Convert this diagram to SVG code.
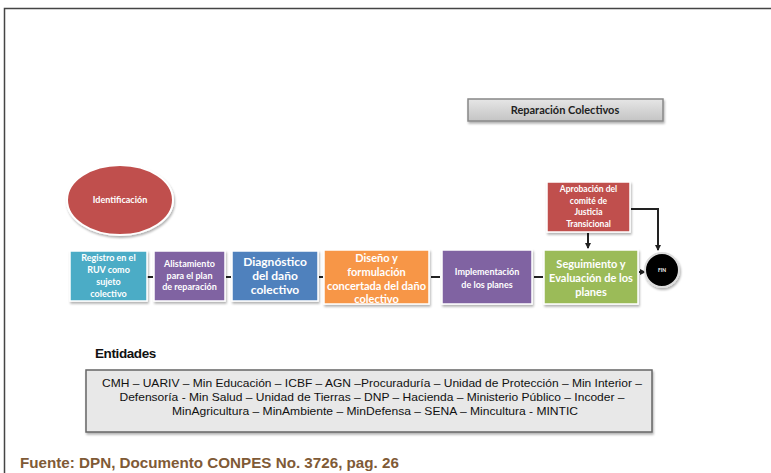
<svg xmlns="http://www.w3.org/2000/svg" width="771" height="473" viewBox="0 0 771 473">
<defs>
<linearGradient id="gGray" x1="0" y1="0" x2="0" y2="1">
<stop offset="0" stop-color="#e6e6e6"/><stop offset="1" stop-color="#c4c4c4"/>
</linearGradient>
<filter id="sh" x="-10%" y="-10%" width="130%" height="130%">
<feDropShadow dx="1" dy="2" stdDeviation="1.2" flood-color="#000" flood-opacity="0.3"/>
</filter>
<marker id="ah" markerWidth="6" markerHeight="6" refX="5" refY="3" orient="auto" markerUnits="userSpaceOnUse">
<path d="M0,0 L6,3 L0,6 z" fill="#222"/>
</marker>
</defs>
<style>
.box{stroke:#fff;stroke-width:1.5;filter:url(#sh)}
.t{font-family:Lato,"Liberation Sans",sans-serif;font-weight:bold;fill:#fff;text-anchor:middle}
.c{stroke:#222;stroke-width:2;fill:none}
.ent{font-family:"Liberation Sans",Arial,sans-serif;font-size:11.5px;fill:#111;text-anchor:middle}
</style>
<rect width="771" height="473" fill="#fff"/>
<path d="M4.5,473 V8.5 H771" fill="none" stroke="#444" stroke-width="1.5"/>

<g id="titulo">
<rect x="468" y="99" width="195" height="22" fill="url(#gGray)" stroke="#888" stroke-width="1.5" filter="url(#sh)"/>
<text x="565" y="114" font-family="Lato,'Liberation Sans',sans-serif" font-weight="bold" font-size="11" fill="#222" text-anchor="middle">Reparación Colectivos</text>
</g>

<g id="identificacion">
<ellipse cx="120" cy="200" rx="53" ry="35" fill="#c0504d" stroke="#fff" stroke-width="2" filter="url(#sh)"/>
<text class="t" x="120" y="203" font-size="9">Identificación</text>
</g>

<g id="connectors">
<line class="c" x1="147" y1="277" x2="153" y2="277" stroke-width="1.5"/>
<line class="c" x1="226" y1="277" x2="231" y2="277" stroke-width="1.5"/>
<line class="c" x1="319" y1="277" x2="323" y2="277" stroke-width="1.5"/>
<line class="c" x1="431" y1="277" x2="440" y2="277"/>
<line class="c" x1="534" y1="277" x2="543" y2="277"/>
<line class="c" x1="639" y1="272" x2="645" y2="272" marker-end="url(#ah)"/>
<line class="c" x1="588" y1="233" x2="588" y2="248" marker-end="url(#ah)"/>
<polyline class="c" points="631,209 658,209 658,250" marker-end="url(#ah)"/>
</g>

<g id="registro">
<rect class="box" x="70" y="251" width="77" height="50" fill="#4bacc6"/>
<text class="t" font-size="9" x="108.5" y="261">Registro en el</text>
<text class="t" font-size="9" x="108.5" y="273">RUV como</text>
<text class="t" font-size="9" x="108.5" y="285">sujeto</text>
<text class="t" font-size="9" x="108.5" y="297">colectivo</text>
</g>

<g id="alistamiento">
<rect class="box" x="154" y="251" width="71" height="50" fill="#8064a2"/>
<text class="t" font-size="9" x="189.5" y="267">Alistamiento</text>
<text class="t" font-size="9" x="189.5" y="279">para el plan</text>
<text class="t" font-size="9" x="189.5" y="290">de reparación</text>
</g>

<g id="diagnostico">
<rect class="box" x="232" y="251" width="86" height="50" fill="#4f81bd"/>
<text class="t" font-size="12" x="275" y="266">Diagnóstico</text>
<text class="t" font-size="12" x="275" y="280">del daño</text>
<text class="t" font-size="12" x="275" y="294">colectivo</text>
</g>

<g id="diseno">
<rect class="box" x="324" y="250" width="105" height="54" fill="#f79646"/>
<text class="t" font-size="11" x="376.5" y="262">Diseño y</text>
<text class="t" font-size="11" x="376.5" y="276">formulación</text>
<text class="t" font-size="11" x="376.5" y="290">concertada del daño</text>
<text class="t" font-size="11" x="376.5" y="303">colectivo</text>
</g>

<g id="implementacion">
<rect class="box" x="442" y="250" width="90" height="54" fill="#8064a2"/>
<text class="t" font-size="9" x="487" y="275">Implementación</text>
<text class="t" font-size="9" x="487" y="288">de los planes</text>
</g>

<g id="seguimiento">
<rect class="box" x="544" y="250" width="94" height="54" fill="#9bbb59"/>
<text class="t" font-size="11" x="591" y="268">Seguimiento y</text>
<text class="t" font-size="11" x="591" y="282">Evaluación de los</text>
<text class="t" font-size="11" x="591" y="296">planes</text>
</g>

<g id="aprobacion">
<rect class="box" x="547" y="182" width="83" height="50" fill="#c0504d"/>
<text class="t" font-size="8.5" x="588.5" y="192">Aprobación del</text>
<text class="t" font-size="8.5" x="588.5" y="204">comité de</text>
<text class="t" font-size="8.5" x="588.5" y="215">Justicia</text>
<text class="t" font-size="8.5" x="588.5" y="227">Transicional</text>
</g>

<g id="fin">
<circle cx="662" cy="270" r="17" fill="#000" stroke="#ddd" stroke-width="2" filter="url(#sh)"/>
<text class="t" font-size="5" x="662" y="272">FIN</text>
</g>

<g id="entidades">
<text x="95" y="358" font-family="'Liberation Sans',Arial,sans-serif" font-weight="bold" font-size="13.5" fill="#111" letter-spacing="-0.4">Entidades</text>
<rect x="86" y="370" width="566" height="62" fill="#e8e8e8" stroke="#666" stroke-width="1.5" filter="url(#sh)"/>
<text class="ent" x="372" y="387" textLength="540" lengthAdjust="spacingAndGlyphs">CMH – UARIV – Min Educación – ICBF – AGN –Procuraduría – Unidad de Protección – Min Interior –</text>
<text class="ent" x="372" y="401" textLength="505" lengthAdjust="spacingAndGlyphs">Defensoría -  Min Salud – Unidad de Tierras – DNP – Hacienda – Ministerio Público – Incoder –</text>
<text class="ent" x="375" y="415" textLength="406" lengthAdjust="spacingAndGlyphs">MinAgricultura – MinAmbiente – MinDefensa – SENA – Mincultura - MINTIC</text>
</g>

<text x="20" y="468" font-family="'Liberation Sans',Arial,sans-serif" font-weight="bold" font-size="15.2" fill="#7f5a36">Fuente: DPN, Documento CONPES No. 3726, pag. 26</text>
</svg>
